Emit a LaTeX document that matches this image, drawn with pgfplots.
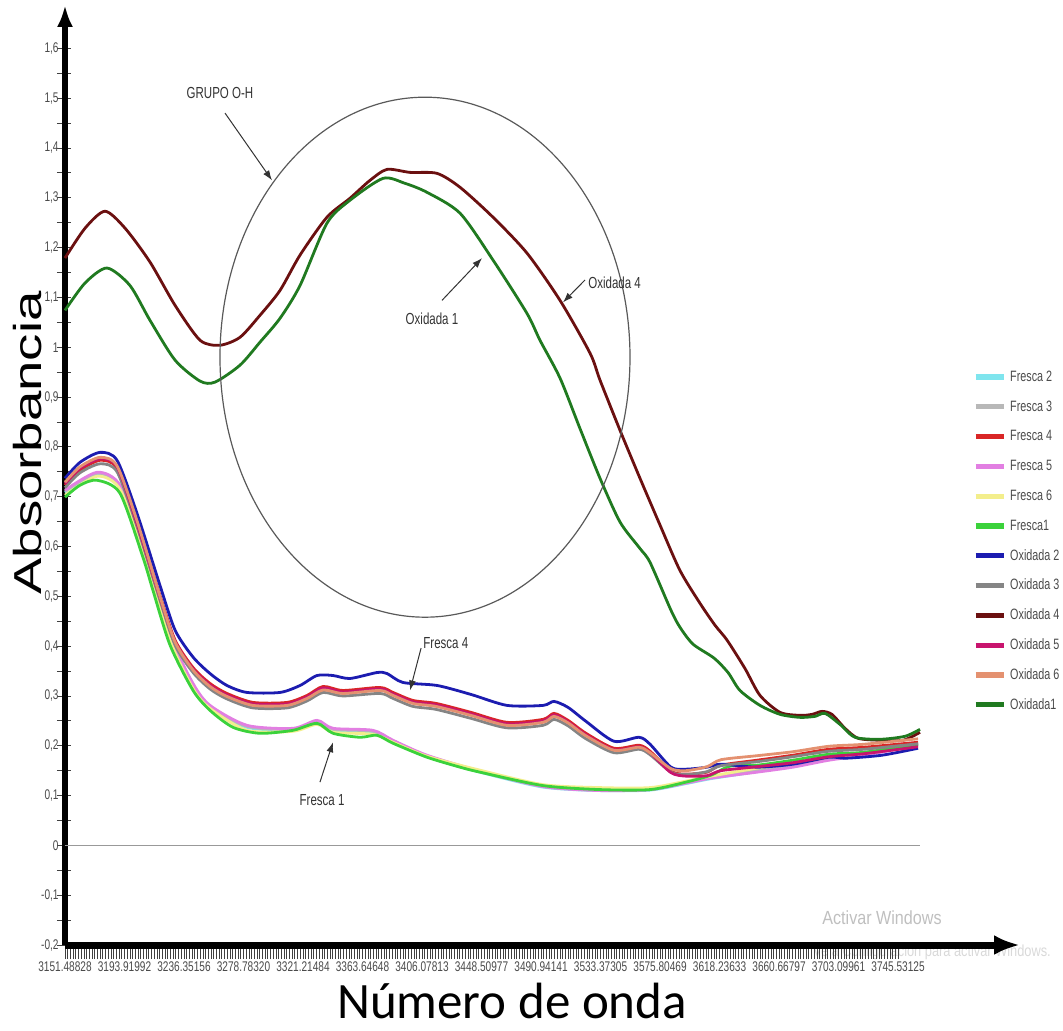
\documentclass[border=0pt]{standalone}
\usepackage{pgfplots}
\pgfplotsset{compat=1.18}
\usepackage{fontspec}
\setmainfont{Liberation Sans}
\newfontfamily\calib{Carlito}
\usetikzlibrary{arrows.meta}

\definecolor{cfdos}{HTML}{7FE5EE}
\definecolor{cftres}{HTML}{B8B8B8}
\definecolor{cfcuatro}{HTML}{D92626}
\definecolor{cfcinco}{HTML}{E27FE2}
\definecolor{cfseis}{HTML}{F3EE8C}
\definecolor{cfuno}{HTML}{3BD23B}
\definecolor{coxdos}{HTML}{1C1CB0}
\definecolor{coxtres}{HTML}{858585}
\definecolor{coxcuatro}{HTML}{6B1010}
\definecolor{coxcinco}{HTML}{C8146E}
\definecolor{coxseis}{HTML}{E49170}
\definecolor{coxuno}{HTML}{207A20}
\definecolor{labgray}{HTML}{4A4A4A}

\newcommand{\nar}[1]{\scalebox{0.72}[1]{#1}}

\begin{document}
\begin{tikzpicture}
\useasboundingbox (0,0) rectangle (531.5pt,515pt);

% watermark
\node[text=black!25, font=\fontsize{9.5}{10}\selectfont] at (441pt,56pt) {\scalebox{0.85}[1]{Activar Windows}};
\node[text=black!15, font=\fontsize{8}{9}\selectfont] at (466pt,39pt) {\scalebox{0.8}[1]{Ve a Configuración para activar Windows.}};

\begin{axis}[
    at={(32.5pt,42.5pt)}, anchor=south west,
    scale only axis, width=477.5pt, height=470pt,
    xmin=3151.49, xmax=3832.5, ymin=-0.2, ymax=1.687,
    axis lines=left, clip=false,
    x axis line style={line width=3.5pt, -{Latex[length=13pt,width=10pt]}},
    y axis line style={line width=3pt, -{Latex[length=11pt,width=8pt]}},
    tick align=outside,
    major tick length=7pt, minor tick length=7pt,
    tick style={black!75, line width=0.4pt},
    ytick style={xshift=3pt},
    xtick={3151.48828,3193.91992,3236.35156,3278.78320,3321.21484,3363.64648,3406.07813,3448.50977,3490.94141,3533.37305,3575.80469,3618.23633,3660.66797,3703.09961,3745.53125},
    xticklabels={\nar{3151.48828},\nar{3193.91992},\nar{3236.35156},\nar{3278.78320},\nar{3321.21484},\nar{3363.64648},\nar{3406.07813},\nar{3448.50977},\nar{3490.94141},\nar{3533.37305},\nar{3575.80469},\nar{3618.23633},\nar{3660.66797},\nar{3703.09961},\nar{3745.53125}},
    minor x tick num=21,
    ytick={-0.2,-0.1,0,0.1,0.2,0.3,0.4,0.5,0.6,0.7,0.8,0.9,1,1.1,1.2,1.3,1.4,1.5,1.6},
    yticklabels={\nar{-0,2},\nar{-0,1},\nar{0},\nar{0,1},\nar{0,2},\nar{0,3},\nar{0,4},\nar{0,5},\nar{0,6},\nar{0,7},\nar{0,8},\nar{0,9},\nar{1},\nar{1,1},\nar{1,2},\nar{1,3},\nar{1,4},\nar{1,5},\nar{1,6}},
    minor y tick num=1,
    x tick label style={font=\fontsize{7}{8}\selectfont, text=labgray, inner sep=1pt},
    y tick label style={font=\fontsize{7}{8}\selectfont, text=labgray, inner sep=1pt, xshift=5pt},
    legend style={at={(0.9508,0.6117)}, anchor=north west, draw=none, fill=none,
        inner sep=0pt, outer sep=0pt,
        font=\fontsize{7.5}{8}\selectfont, text=labgray,
        nodes={inner sep=0pt, text height=5.6pt, text depth=1.4pt},
        row sep=7.9pt, column sep=2pt},
    legend cell align=left,
    legend image code/.code={\draw[#1, line width=2.6pt, sharp plot] (0pt,0pt) -- (14pt,0pt);},
    every axis plot/.append style={line width=1.4pt, smooth, tension=0.45},
]
% zero line
\addplot[black!40, line width=0.7pt, forget plot] coordinates {(3151.49,0) (3761.2,0)};

% Fresca 2
\addplot[cfdos] coordinates {
(3151.5,0.708) (3174.3,0.745) (3190.7,0.719) (3207.1,0.590) (3226.4,0.416) (3242.8,0.320)
(3254.9,0.277) (3281.3,0.237) (3314.1,0.232) (3331.2,0.247) (3342.6,0.231) (3371.1,0.227)
(3385.4,0.208) (3409.6,0.178) (3447.4,0.147) (3492.4,0.117) (3533.0,0.110) (3568.7,0.111)
(3594.3,0.124) (3612.2,0.134) (3645.0,0.148) (3670.6,0.159) (3696.3,0.173) (3721.3,0.182)
(3759.8,0.203)};
% Fresca 3
\addplot[cftres] coordinates {
(3151.5,0.711) (3174.3,0.747) (3190.7,0.721) (3207.1,0.593) (3226.4,0.419) (3242.8,0.322)
(3254.9,0.279) (3281.3,0.239) (3314.1,0.233) (3331.2,0.249) (3342.6,0.233) (3371.1,0.229)
(3385.4,0.210) (3409.6,0.180) (3447.4,0.148) (3492.4,0.119) (3533.0,0.111) (3568.7,0.112)
(3594.3,0.126) (3612.2,0.137) (3645.0,0.152) (3670.6,0.162) (3696.3,0.175) (3721.3,0.184)
(3759.8,0.205)};
% Fresca 4
\addplot[cfcuatro] coordinates {
(3151.5,0.723) (3162.2,0.753) (3176.5,0.773) (3188.6,0.757) (3202.8,0.649) (3219.2,0.502)
(3230.0,0.412) (3242.8,0.357) (3254.9,0.325) (3267.0,0.305) (3285.6,0.287) (3309.8,0.287)
(3324.1,0.301) (3335.5,0.319) (3349.7,0.311) (3376.1,0.317) (3385.4,0.307) (3399.6,0.291)
(3416.1,0.285) (3441.0,0.267) (3466.7,0.247) (3492.4,0.253) (3500.2,0.265) (3510.2,0.251)
(3523.0,0.225) (3543.0,0.195) (3560.8,0.201) (3568.7,0.189) (3583.6,0.149) (3594.3,0.143)
(3609.3,0.147) (3619.3,0.161) (3645.0,0.171) (3670.6,0.181) (3696.3,0.193) (3721.3,0.197)
(3759.8,0.207)};
% Fresca 5
\addplot[cfcinco] coordinates {
(3151.5,0.713) (3174.3,0.749) (3190.7,0.723) (3207.1,0.596) (3226.4,0.422) (3242.8,0.325)
(3254.9,0.281) (3281.3,0.241) (3314.1,0.235) (3331.2,0.251) (3342.6,0.235) (3371.1,0.231)
(3385.4,0.211) (3409.6,0.181) (3447.4,0.149) (3492.4,0.118) (3533.0,0.110) (3568.7,0.112)
(3594.3,0.125) (3612.2,0.135) (3645.0,0.147) (3670.6,0.157) (3696.3,0.171) (3721.3,0.181)
(3759.8,0.201)};
% Fresca 6
\addplot[cfseis] coordinates {
(3151.5,0.703) (3174.3,0.741) (3190.7,0.715) (3207.1,0.588) (3226.4,0.412) (3242.8,0.315)
(3254.9,0.275) (3281.3,0.231) (3314.1,0.229) (3331.2,0.243) (3342.6,0.227) (3371.1,0.223)
(3385.4,0.207) (3409.6,0.179) (3447.4,0.151) (3492.4,0.122) (3533.0,0.116) (3568.7,0.116)
(3594.3,0.129) (3612.2,0.139) (3645.0,0.155) (3670.6,0.165) (3696.3,0.177) (3721.3,0.185)
(3759.8,0.201)};
% Fresca1
\addplot[cfuno] coordinates {
(3151.5,0.699) (3162.2,0.723) (3174.3,0.733) (3190.7,0.707) (3207.1,0.578) (3214.2,0.512)
(3226.4,0.402) (3242.8,0.311) (3254.9,0.271) (3271.3,0.237) (3290.5,0.225) (3314.1,0.231)
(3331.2,0.245) (3342.6,0.225) (3361.9,0.217) (3374.0,0.221) (3385.4,0.205) (3409.6,0.177)
(3433.2,0.157) (3447.4,0.147) (3492.4,0.120) (3533.0,0.112) (3568.7,0.112) (3594.3,0.127)
(3612.2,0.141) (3625.7,0.159) (3645.0,0.161) (3670.6,0.171) (3696.3,0.183) (3721.3,0.187)
(3759.8,0.203)};
% Oxidada 2
\addplot[coxdos] coordinates {
(3151.5,0.737) (3162.2,0.769) (3176.5,0.789) (3188.6,0.773) (3202.8,0.667) (3219.2,0.522)
(3230.0,0.432) (3242.8,0.378) (3254.9,0.345) (3267.0,0.321) (3281.3,0.307) (3304.8,0.307)
(3319.1,0.321) (3331.2,0.341) (3342.6,0.341) (3354.7,0.335) (3374.0,0.347) (3381.1,0.345)
(3392.5,0.327) (3416.8,0.321) (3441.0,0.303) (3466.7,0.281) (3492.4,0.281) (3500.2,0.289)
(3510.2,0.277) (3523.0,0.249) (3543.0,0.209) (3560.8,0.217) (3568.7,0.203) (3583.6,0.157)
(3594.3,0.153) (3609.3,0.157) (3619.3,0.163) (3645.0,0.157) (3670.6,0.163) (3696.3,0.177)
(3708.4,0.175) (3734.1,0.181) (3759.8,0.195)};
% Oxidada 3
\addplot[coxtres] coordinates {
(3151.5,0.718) (3162.2,0.748) (3176.5,0.766) (3188.6,0.750) (3202.8,0.640) (3219.2,0.492)
(3230.0,0.402) (3242.8,0.347) (3254.9,0.314) (3267.0,0.294) (3285.6,0.276) (3309.8,0.276)
(3324.1,0.290) (3335.5,0.307) (3349.7,0.300) (3376.1,0.305) (3385.4,0.295) (3399.6,0.279)
(3416.1,0.273) (3441.0,0.255) (3466.7,0.236) (3492.4,0.241) (3500.2,0.253) (3510.2,0.240)
(3523.0,0.214) (3543.0,0.186) (3560.8,0.193) (3568.7,0.182) (3583.6,0.147) (3594.3,0.142)
(3609.3,0.148) (3619.3,0.160) (3645.0,0.168) (3670.6,0.178) (3696.3,0.189) (3721.3,0.193)
(3759.8,0.204)};
% Oxidada 4
\addplot[coxcuatro] coordinates {
(3151.5,1.179) (3165.8,1.239) (3180.0,1.273) (3194.3,1.239) (3212.1,1.171) (3230.0,1.084)
(3247.8,1.014) (3262.0,1.004) (3276.3,1.020) (3290.5,1.064) (3304.8,1.114) (3319.1,1.185)
(3338.3,1.261) (3354.7,1.299) (3369.0,1.335) (3381.1,1.357) (3397.5,1.351) (3416.8,1.349)
(3433.2,1.321) (3456.7,1.261) (3480.9,1.189) (3504.5,1.094) (3525.9,0.988) (3533.0,0.934)
(3547.3,0.833) (3561.5,0.737) (3575.8,0.643) (3590.0,0.552) (3604.3,0.486) (3615.0,0.442)
(3623.6,0.412) (3636.4,0.355) (3647.1,0.301) (3661.4,0.267) (3675.6,0.261) (3684.2,0.263)
(3691.3,0.269) (3698.4,0.263) (3707.7,0.235) (3717.0,0.215) (3732.7,0.211) (3749.1,0.211)
(3761.2,0.227)};
% Oxidada 5
\addplot[coxcinco] coordinates {
(3151.5,0.726) (3162.2,0.757) (3176.5,0.776) (3188.6,0.760) (3202.8,0.646) (3219.2,0.498)
(3230.0,0.409) (3242.8,0.354) (3254.9,0.322) (3267.0,0.302) (3285.6,0.284) (3309.8,0.284)
(3324.1,0.298) (3335.5,0.316) (3349.7,0.308) (3376.1,0.314) (3385.4,0.304) (3399.6,0.288)
(3416.1,0.282) (3441.0,0.264) (3466.7,0.244) (3492.4,0.250) (3500.2,0.262) (3510.2,0.248)
(3523.0,0.222) (3543.0,0.192) (3560.8,0.198) (3568.7,0.186) (3583.6,0.146) (3594.3,0.139)
(3609.3,0.140) (3619.3,0.150) (3645.0,0.158) (3670.6,0.166) (3696.3,0.178) (3721.3,0.184)
(3759.8,0.198)};
% Oxidada 6
\addplot[coxseis] coordinates {
(3151.5,0.729) (3162.2,0.760) (3176.5,0.779) (3188.6,0.762) (3202.8,0.652) (3219.2,0.500)
(3230.0,0.408) (3242.8,0.352) (3254.9,0.319) (3267.0,0.299) (3285.6,0.281) (3309.8,0.281)
(3324.1,0.295) (3335.5,0.312) (3349.7,0.305) (3376.1,0.311) (3385.4,0.301) (3399.6,0.285)
(3416.1,0.279) (3441.0,0.261) (3466.7,0.241) (3492.4,0.247) (3500.2,0.259) (3510.2,0.246)
(3523.0,0.220) (3543.0,0.191) (3560.8,0.197) (3568.7,0.186) (3583.6,0.154) (3594.3,0.150)
(3609.3,0.158) (3619.3,0.172) (3645.0,0.180) (3670.6,0.188) (3696.3,0.199) (3721.3,0.203)
(3759.8,0.214)};
% Oxidada1
\addplot[coxuno] coordinates {
(3151.5,1.074) (3165.8,1.129) (3181.4,1.159) (3197.8,1.124) (3212.1,1.054) (3230.0,0.974)
(3247.8,0.932) (3258.5,0.930) (3276.3,0.964) (3290.5,1.010) (3304.8,1.058) (3319.1,1.124)
(3338.3,1.249) (3354.7,1.295) (3378.3,1.339) (3393.9,1.329) (3409.6,1.311) (3433.2,1.269)
(3456.7,1.175) (3480.9,1.068) (3490.2,1.014) (3504.5,0.938) (3518.7,0.837) (3533.0,0.737)
(3547.3,0.649) (3561.5,0.596) (3568.7,0.568) (3583.6,0.472) (3590.0,0.438) (3599.3,0.404)
(3614.3,0.376) (3624.3,0.347) (3632.8,0.311) (3647.1,0.281) (3661.4,0.263) (3675.6,0.257)
(3686.3,0.259) (3693.5,0.265) (3704.1,0.243) (3714.8,0.217) (3732.7,0.213) (3750.5,0.219)
(3761.2,0.233)};

\legend{\nar{Fresca 2},\nar{Fresca 3},\nar{Fresca 4},\nar{Fresca 5},\nar{Fresca 6},\nar{Fresca1},
        \nar{Oxidada 2},\nar{Oxidada 3},\nar{Oxidada 4},\nar{Oxidada 5},\nar{Oxidada 6},\nar{Oxidada1}}

% annotations
\draw[black!65, line width=0.6pt] (axis cs:3408.2,0.98) ellipse [x radius=102.5pt, y radius=130pt];
\begin{scope}[black!80, line width=0.5pt, -{Latex[length=5pt,width=3.5pt]}]
\draw (axis cs:3265.6,1.470) -- (axis cs:3299.1,1.335);
\draw (axis cs:3420.3,1.094) -- (axis cs:3448.9,1.179);
\draw (axis cs:3522.3,1.135) -- (axis cs:3506.6,1.090);
\draw (axis cs:3405.4,0.396) -- (axis cs:3397.5,0.311);
\draw (axis cs:3333.3,0.127) -- (axis cs:3342.6,0.207);
\end{scope}
\begin{scope}[every node/.style={font=\fontsize{8}{9}\selectfont, text=black!80, inner sep=0pt}]
\node at (axis cs:3262.0,1.510) {\nar{GRUPO O-H}};
\node at (axis cs:3413.2,1.058) {\nar{Oxidada 1}};
\node[anchor=west] at (axis cs:3524.4,1.129) {\nar{Oxidada 4}};
\node[anchor=west] at (axis cs:3406.8,0.406) {\nar{Fresca 4}};
\node at (axis cs:3334.8,0.090) {\nar{Fresca 1}};
\end{scope}
\end{axis}

\node[rotate=90, font=\fontsize{19.5}{22}\selectfont] at (14pt,293.5pt) {\scalebox{1.4}[1]{Absorbancia}};
\node[font=\calib\fontsize{25.5}{28}\selectfont, anchor=base, inner sep=0pt, text depth=0pt] at (256pt,6pt) {\scalebox{1}[1]{Número de onda}};
\end{tikzpicture}
\end{document}
